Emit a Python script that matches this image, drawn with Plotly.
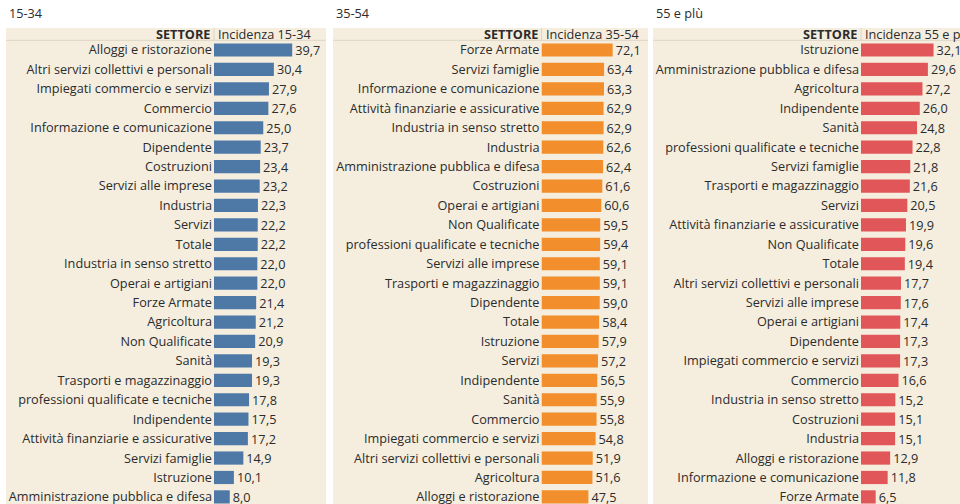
import plotly.graph_objects as go

W, H = 960, 504

# ---- data ----
sectors_1534 = ["Alloggi e ristorazione", "Altri servizi collettivi e personali", "Impiegati commercio e servizi",
                "Commercio", "Informazione e comunicazione", "Dipendente", "Costruzioni", "Servizi alle imprese",
                "Industria", "Servizi", "Totale", "Industria in senso stretto", "Operai e artigiani",
                "Forze Armate", "Agricoltura", "Non Qualificate", "Sanità", "Trasporti e magazzinaggio",
                "professioni qualificate e tecniche", "Indipendente", "Attività finanziarie e assicurative",
                "Servizi famiglie", "Istruzione", "Amministrazione pubblica e difesa"]
values_1534 = [39.7, 30.4, 27.9, 27.6, 25.0, 23.7, 23.4, 23.2, 22.3, 22.2, 22.2, 22.0, 22.0,
               21.4, 21.2, 20.9, 19.3, 19.3, 17.8, 17.5, 17.2, 14.9, 10.1, 8.0]

sectors_3554 = ["Forze Armate", "Servizi famiglie", "Informazione e comunicazione",
                "Attività finanziarie e assicurative", "Industria in senso stretto", "Industria",
                "Amministrazione pubblica e difesa", "Costruzioni", "Operai e artigiani", "Non Qualificate",
                "professioni qualificate e tecniche", "Servizi alle imprese", "Trasporti e magazzinaggio",
                "Dipendente", "Totale", "Istruzione", "Servizi", "Indipendente", "Sanità", "Commercio",
                "Impiegati commercio e servizi", "Altri servizi collettivi e personali", "Agricoltura",
                "Alloggi e ristorazione"]
values_3554 = [72.1, 63.4, 63.3, 62.9, 62.9, 62.6, 62.4, 61.6, 60.6, 59.5, 59.4, 59.1, 59.1,
               59.0, 58.4, 57.9, 57.2, 56.5, 55.9, 55.8, 54.8, 51.9, 51.6, 47.5]

sectors_55 = ["Istruzione", "Amministrazione pubblica e difesa", "Agricoltura", "Indipendente", "Sanità",
              "professioni qualificate e tecniche", "Servizi famiglie", "Trasporti e magazzinaggio", "Servizi",
              "Attività finanziarie e assicurative", "Non Qualificate", "Totale",
              "Altri servizi collettivi e personali", "Servizi alle imprese", "Operai e artigiani", "Dipendente",
              "Impiegati commercio e servizi", "Commercio", "Industria in senso stretto", "Costruzioni",
              "Industria", "Alloggi e ristorazione", "Informazione e comunicazione", "Forze Armate"]
values_55 = [32.1, 29.6, 27.2, 26.0, 24.8, 22.8, 21.8, 21.6, 20.5, 19.9, 19.6, 19.4, 17.7, 17.6,
             17.4, 17.3, 17.3, 16.6, 15.2, 15.1, 15.1, 12.9, 11.8, 6.5]

titles = ["15-34", "35-54", "55 e plù"]
headers = ["Incidenza 15-34", "Incidenza 35-54", "Incidenza 55 e più"]

# ---- layout parameters (pixels) ----
FONT = "Open Sans"
FS = 12.7
TXT = "#2b2b2b"
BG = "#f5eedf"
LINE = "#ddd5c4"
HEADER_TOP = 28
HEADER_BOTTOM = 40.3
ROW = 19.43

panels = [
    dict(cats=sectors_1534, vals=values_1534, color="#4e79a7", left=6, right=326, split=214, scale=1.97),
    dict(cats=sectors_3554, vals=values_3554, color="#f28e2b", left=333, right=648, split=541.5, scale=0.987),
    dict(cats=sectors_55, vals=values_55, color="#e15759", left=653, right=975, split=861, scale=2.26),
]

fig = go.Figure()
shapes = []
annotations = []

def px_x(x):
    return x / W

def px_y(y):
    return 1 - y / H

dom_top = px_y(HEADER_BOTTOM)
n_rows_visible = (H - HEADER_BOTTOM) / ROW

for i, p in enumerate(panels):
    k = "" if i == 0 else str(i + 1)
    right_dom = min(p["right"], W)
    xmax = (right_dom - p["split"]) / p["scale"]
    fig.add_trace(go.Bar(
        x=p["vals"], y=p["cats"], orientation="h",
        marker=dict(color=p["color"], line=dict(width=0)),
        width=0.68,
        text=p["vals"], texttemplate="%{x:.1f}", textposition="outside",
        textfont=dict(family=FONT, size=FS, color=TXT),
        constraintext="none",
        cliponaxis=False,
        xaxis="x" + k, yaxis="y" + k,
        hoverinfo="skip",
    ))
    fig.update_layout(**{
        "xaxis" + k: dict(domain=[px_x(p["split"]), px_x(right_dom)], range=[0, xmax],
                          showgrid=False, zeroline=False, showticklabels=False, showline=False,
                          fixedrange=True, anchor="y" + k),
        "yaxis" + k: dict(domain=[0, dom_top], type="category", categoryorder="array",
                          categoryarray=p["cats"],
                          range=[-0.5 + n_rows_visible, -0.5],
                          showgrid=False, zeroline=False, showline=False, ticks="",
                          tickfont=dict(family=FONT, size=FS, color=TXT),
                          ticklabelstandoff=1,
                          fixedrange=True, anchor="x" + k),
    })
    # background
    shapes.append(dict(type="rect", xref="paper", yref="paper",
                       x0=px_x(p["left"]), x1=px_x(p["right"]), y0=px_y(H + 10), y1=px_y(HEADER_TOP),
                       fillcolor=BG, line=dict(width=0), layer="below"))
    # header bottom line
    shapes.append(dict(type="line", xref="paper", yref="paper",
                       x0=px_x(p["left"]), x1=px_x(p["right"]), y0=dom_top, y1=dom_top,
                       line=dict(color=LINE, width=1), layer="below"))
    # header divider
    shapes.append(dict(type="line", xref="paper", yref="paper",
                       x0=px_x(p["split"]), x1=px_x(p["split"]), y0=px_y(HEADER_TOP), y1=dom_top,
                       line=dict(color=LINE, width=1), layer="below"))
    # titles and headers
    annotations.append(dict(text=titles[i], xref="paper", yref="paper", x=px_x(p["left"] + 1), y=px_y(13),
                            xanchor="left", yanchor="middle", showarrow=False,
                            font=dict(family=FONT, size=FS, color=TXT)))
    annotations.append(dict(text="<b>SETTORE</b>", xref="paper", yref="paper", x=px_x(p["split"] - 2),
                            y=px_y(34.5), xanchor="right", yanchor="middle", showarrow=False,
                            font=dict(family=FONT, size=FS, color=TXT)))
    annotations.append(dict(text=headers[i], xref="paper", yref="paper", x=px_x(p["split"] + 2),
                            y=px_y(34.5), xanchor="left", yanchor="middle", showarrow=False,
                            font=dict(family=FONT, size=FS, color=TXT)))

fig.update_layout(
    width=W, height=H,
    margin=dict(l=0, r=0, t=0, b=0),
    paper_bgcolor="white", plot_bgcolor="rgba(0,0,0,0)",
    showlegend=False,
    separators=",.",
    shapes=shapes, annotations=annotations,
    bargap=0.3,
)

fig.write_html("out.html", config={"displayModeBar": False},
               post_script="document.body.style.margin='0';document.body.style.overflow='hidden';")
